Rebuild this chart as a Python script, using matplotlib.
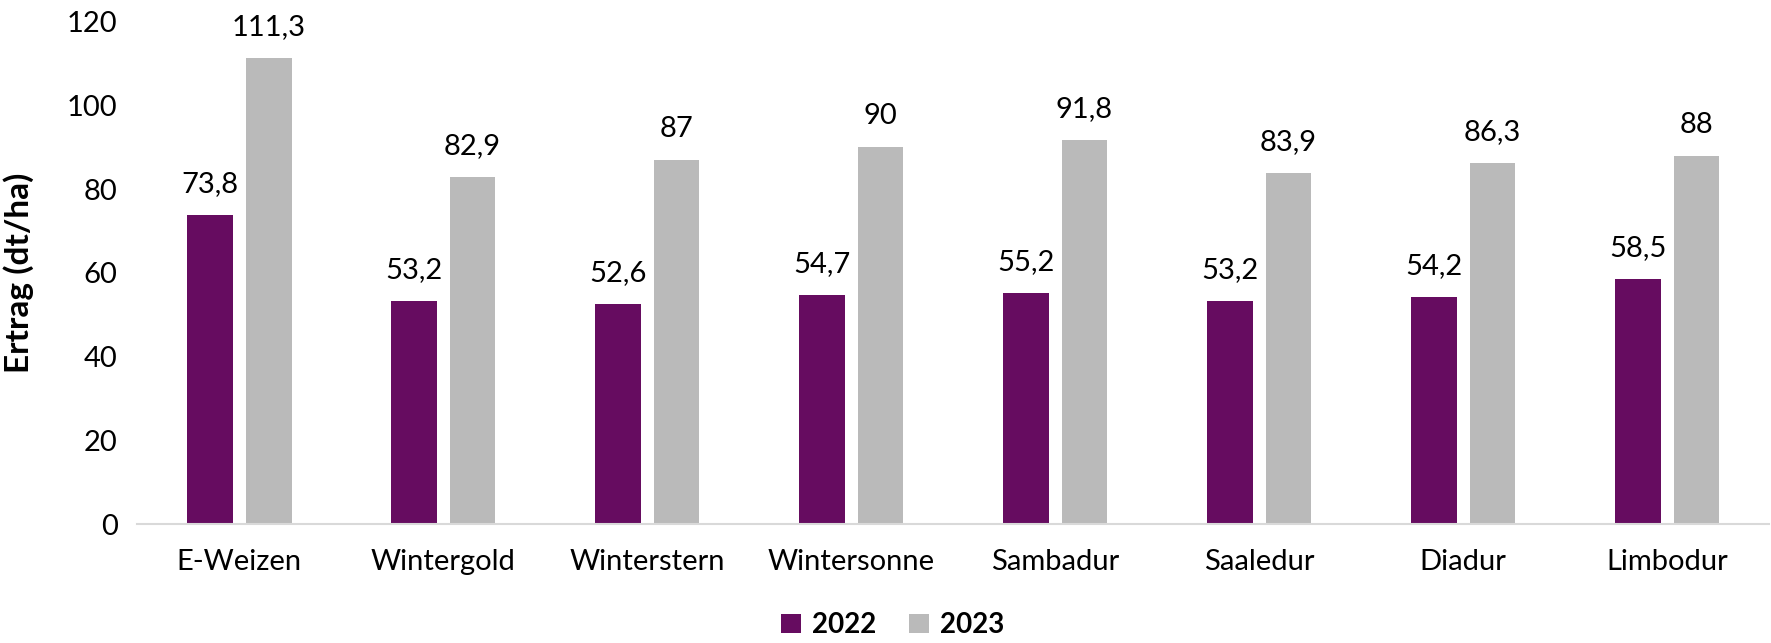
import matplotlib.pyplot as plt
import numpy as np

plt.rcParams['font.family'] = ['Lato', 'DejaVu Sans']

sorten = ['E-Weizen', 'Wintergold', 'Winterstern', 'Wintersonne',
          'Sambadur', 'Saaledur', 'Diadur', 'Limbodur']
ertrag_2022 = [73.8, 53.2, 52.6, 54.7, 55.2, 53.2, 54.2, 58.5]
ertrag_2023 = [111.3, 82.9, 87, 90, 91.8, 83.9, 86.3, 88]
jahre = ['2022', '2023']

lila = '#660c60'
grau = '#bababa'

def komma(v):
    return ('%g' % v).replace('.', ',')

fig = plt.figure(figsize=(17.71, 6.43), dpi=100)
ax = fig.add_axes([0.0774, 0.185, 0.9215, 0.781])

x = np.arange(len(sorten))
b = 0.225  # breite
d = 0.064  # abstand
b1 = ax.bar(x - (b + d) / 2, ertrag_2022, b, color=lila, label=jahre[0])
b2 = ax.bar(x + (b + d) / 2, ertrag_2023, b, color=grau, label=jahre[1])

for bars in (b1, b2):
    ax.bar_label(bars, labels=[komma(v) for v in bars.datavalues],
                 padding=13, fontsize=21, color='#000000')

ax.set_xlim(-0.5, len(sorten) - 0.5)
ax.set_ylim(0, 120)
ax.set_yticks(range(0, 121, 20))
ax.set_xticks(x)
ax.set_xticklabels(sorten, fontsize=21)
ax.tick_params(axis='y', length=0, pad=14, labelsize=21)
ax.tick_params(axis='x', length=0, pad=18)

for s in ['top', 'right', 'left']:
    ax.spines[s].set_visible(False)
ax.spines['bottom'].set_color('#d9d9d9')
ax.spines['bottom'].set_linewidth(1.5)

ax.set_ylabel('Ertrag (dt/ha)', fontsize=24, fontweight='bold')
ax.yaxis.set_label_coords(-0.063, 0.5)

fig.legend(handles=[b1, b2], loc='center', bbox_to_anchor=(0.504, 0.028),
           ncol=2, frameon=False, prop={'weight': 'bold', 'size': 20},
           handlelength=0.7, handleheight=0.7, handletextpad=0.4,
           columnspacing=1.2)

plt.savefig('out.png', dpi=100)
